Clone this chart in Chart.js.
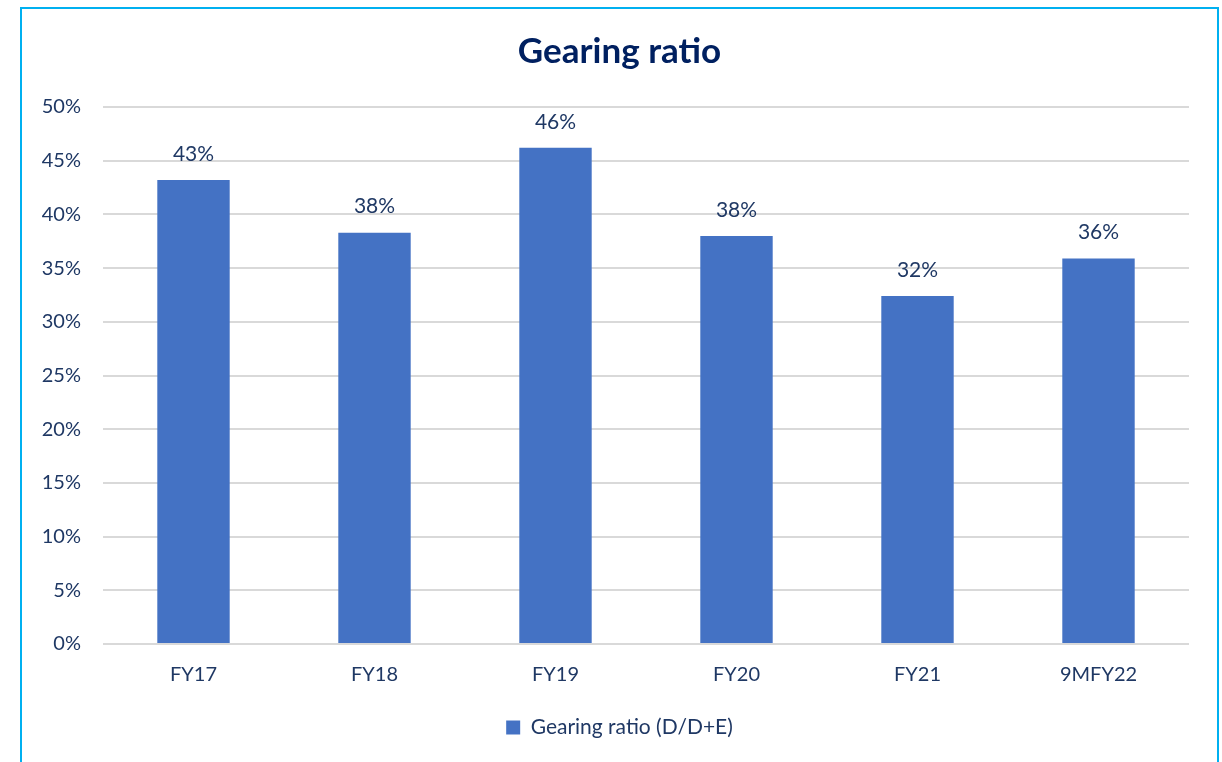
<!DOCTYPE html>
<html>
<head>
<meta charset="utf-8">
<script src="https://cdn.jsdelivr.net/npm/chart.js@4.4.1/dist/chart.umd.min.js"></script>
<style>
  html, body { margin: 0; padding: 0; background: #fff; overflow: hidden; }
  .frame {
    position: absolute;
    left: 20px; top: 7px;
    width: 1195px; height: 800px;
    border: 2px solid #00B0F0;
  }
  .wrap { position: absolute; left: 0; top: 0; width: 1222px; height: 762px; }
</style>
</head>
<body>
<div class="frame"></div>
<div class="wrap"><canvas id="gearingChart" width="1222" height="762"></canvas></div>
<script>
const periods = ['FY17', 'FY18', 'FY19', 'FY20', 'FY21', '9MFY22'];
const gearingRatio = [43.2, 38.3, 46.2, 38.0, 32.4, 35.9];
const yTicks = [0, 5, 10, 15, 20, 25, 30, 35, 40, 45, 50];

const navy = '#1F3864';
const fontFamily = 'Lato, "Open Sans", sans-serif';

// value labels above each bar
const barLabels = {
  id: 'barLabels',
  afterDatasetsDraw(chart) {
    const ctx = chart.ctx;
    const meta = chart.getDatasetMeta(0);
    ctx.save();
    ctx.font = '21px ' + fontFamily;
    ctx.fillStyle = navy;
    ctx.textAlign = 'center';
    ctx.textBaseline = 'middle';
    meta.data.forEach((bar, i) => {
      ctx.fillText(Math.round(gearingRatio[i]) + '%', bar.x, bar.y - 26);
    });
    ctx.restore();
  }
};

new Chart(document.getElementById('gearingChart'), {
  type: 'bar',
  data: {
    labels: periods,
    datasets: [{
      label: 'Gearing ratio (D/D+E)',
      data: gearingRatio,
      backgroundColor: '#4472C4',
      borderWidth: 0,
      barPercentage: 0.4,
      categoryPercentage: 1
    }]
  },
  options: {
    responsive: false,
    animation: false,
    devicePixelRatio: 1,
    layout: { padding: { left: 30, right: 13, top: 10, bottom: 14 } },
    plugins: {
      title: {
        display: true,
        // ZWNJ keeps Lato from joining "ti" into a ligature
        text: 'Gearing ra\u200Ctio',
        color: '#002060',
        font: { family: fontFamily, size: 35, weight: 'bold' },
        padding: { top: 21, bottom: 34 }
      },
      legend: {
        position: 'bottom',
        labels: {
          color: navy,
          font: { family: fontFamily, size: 21 },
          boxWidth: 14,
          boxHeight: 14,
          padding: 11
        }
      },
      tooltip: { enabled: false }
    },
    scales: {
      x: {
        grid: { display: false, drawTicks: false },
        border: { display: false },
        ticks: { color: navy, font: { family: fontFamily, size: 20 }, padding: 19, maxRotation: 0 },
        afterFit(scale) { scale.height = 62; }
      },
      y: {
        min: 0,
        max: 50,
        afterBuildTicks(scale) { scale.ticks = yTicks.map(v => ({ value: v })); },
        grid: { color: '#D9D9D9', lineWidth: 2, drawTicks: false },
        border: { display: false },
        ticks: {
          color: navy,
          font: { family: fontFamily, size: 20 },
          padding: 22,
          callback: v => v + '%'
        },
        afterFit(scale) { scale.width = 73; }
      },
      // empty right-hand spacer so title and legend centre on the frame
      spacer: {
        type: 'linear',
        position: 'right',
        display: true,
        grid: { display: false, drawTicks: false },
        border: { display: false },
        ticks: { display: false },
        afterFit(scale) { scale.width = 20; }
      }
    }
  },
  plugins: [barLabels]
});
</script>
</body>
</html>
